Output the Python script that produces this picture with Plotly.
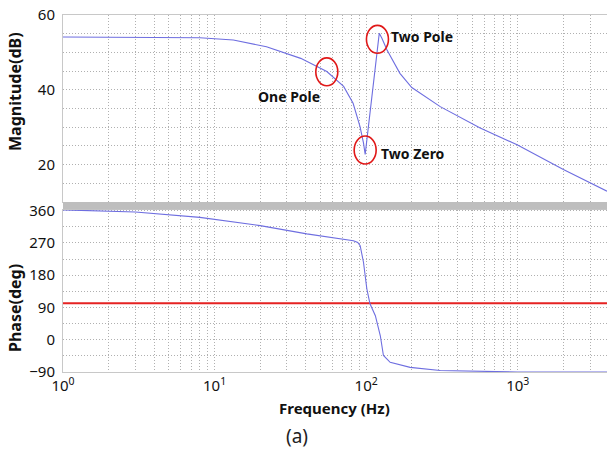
import plotly.graph_objects as go
from plotly.subplots import make_subplots
import math

# ---- data ----
mag_freq = [1, 2, 4, 8, 13.3, 22, 37, 55, 71, 82, 91, 96, 98.5, 122, 127, 137, 167, 200, 308, 565, 990, 2000, 3880]
mag_db   = [54.1, 54.1, 54.1, 53.9, 53.3, 51.5, 48.4, 44.9, 40.9, 36.4, 30.2, 25.8, 22.7, 55.1, 53.8, 50.7, 44.4, 40.6, 35.5, 29.8, 25.3, 18.7, 12.9]

ph_freq = [1, 3, 8, 20, 40.6, 82.4, 88, 91.3, 96, 101, 106, 115, 124, 130, 144, 195, 308, 995, 3880]
ph_deg  = [362, 356, 341, 318, 295, 276, 271, 262, 216, 142, 100, 67, 11, -44, -63, -77, -86, -90, -90]

ref_freq = [1, 3880]
ref_deg = [102, 102]

x_tick_vals = [1, 10, 100, 1000]
x_tick_text = ["10<sup>0</sup>", "10<sup>1</sup>", "10<sup>2</sup>", "10<sup>3</sup>"]

mark_labels = ["One Pole", "Two Zero", "Two Pole"]
mark_freq = [55, 98.5, 118.7]
mark_db = [44.8, 23.9, 53.5]
label_dx = [-38, 48, 45]
label_dy = [-25, -3, 3]

W, H = 607, 453
L, R, T, B = 63, 0, 15, 81
ph_h = H - T - B
top_lo = (H - B - 202) / ph_h
bot_hi = (H - B - 209.5) / ph_h

fig = make_subplots(rows=2, cols=1, shared_xaxes=True)
line_col = "#6e6ee0"
fig.add_trace(go.Scatter(x=mag_freq, y=mag_db, mode="lines", line=dict(color=line_col, width=1.1)), row=1, col=1)
fig.add_trace(go.Scatter(x=ref_freq, y=ref_deg, mode="lines", line=dict(color="#e52222", width=2)), row=2, col=1)
fig.add_trace(go.Scatter(x=ph_freq, y=ph_deg, mode="lines", line=dict(color=line_col, width=1.1)), row=2, col=1)

minor_x = [m * 10 ** d for d in range(0, 4) for m in range(2, 10)]
grid = dict(gridcolor="#b0b0b0", griddash="1px,2px", gridwidth=1)
tfont = dict(family="Noto Sans", size=15, color="#111")
xcommon = dict(type="log", range=[0, math.log10(3880)], showline=True, linecolor="#c8c8c8", mirror=True,
               tickvals=x_tick_vals, zeroline=False, minor=dict(tickvals=minor_x, showgrid=True, **grid), **grid)
fig.update_xaxes(**xcommon, showticklabels=False, row=1, col=1)
fig.update_xaxes(**xcommon, ticktext=x_tick_text, showticklabels=True, row=2, col=1, tickfont=tfont)
fig.update_yaxes(range=[10, 60], dtick=20, tick0=0, showline=True, linecolor="#c8c8c8", mirror=True, zeroline=False,
                 minor=dict(dtick=5, tick0=0, showgrid=True, **grid), tickfont=tfont,
                 ticklabelstandoff=4, domain=[top_lo, 1], row=1, col=1, **grid)
fig.update_yaxes(range=[-90, 363], tickvals=[-90, 0, 90, 180, 270, 360], showline=True, linecolor="#c8c8c8", mirror=True,
                 zeroline=False, minor=dict(dtick=45, tick0=0, showgrid=True, **grid), tickfont=tfont,
                 ticklabelstandoff=4, domain=[0, bot_hi], row=2, col=1, **grid)

# gray splitter between panels
fig.add_shape(type="rect", xref="paper", yref="paper", x0=0, x1=1, y0=bot_hi, y1=top_lo,
              fillcolor="#bebebe", line=dict(width=0), layer="above")

fac = 10 ** (11 / 151.5)
for label, f, db, dx, dy in zip(mark_labels, mark_freq, mark_db, label_dx, label_dy):
    fig.add_shape(type="circle", xref="x", yref="y", x0=f / fac, x1=f * fac,
                  y0=db - 14 * 20 / 75, y1=db + 14 * 20 / 75, line=dict(color="#e01818", width=1.6))
    fig.add_annotation(x=math.log10(f), y=db, xref="x", yref="y", text="<b>" + label + "</b>", showarrow=False,
                       xshift=dx, yshift=dy, font=dict(family="Noto Sans", size=14, color="#111"))

def px_x(p):
    return (p - L) / (W - L - R)

def px_y(p):
    return (H - B - p) / ph_h

ann_font = dict(family="Noto Sans", size=16, color="#111")
common = dict(xref="paper", yref="paper", showarrow=False, xanchor="center", yanchor="middle")
fig.add_annotation(x=px_x(15), y=px_y(92), text="<b>Magnitude(dB)</b>", textangle=-90, font=ann_font, **common)
fig.add_annotation(x=px_x(15), y=px_y(308), text="<b>Phase(deg)</b>", textangle=-90, font=ann_font, **common)
fig.add_annotation(x=px_x(334), y=px_y(408), text="<b>Frequency (Hz)</b>", font=dict(family="Noto Sans", size=15, color="#111"), **common)
fig.add_annotation(x=px_x(297), y=px_y(436), text="(a)", font=dict(family="Noto Sans", size=19, color="#222"), **common)

fig.update_layout(width=W, height=H, margin=dict(l=L, r=R, t=T, b=B), showlegend=False,
                  plot_bgcolor="white", paper_bgcolor="white")
fig.write_html("out.html")
